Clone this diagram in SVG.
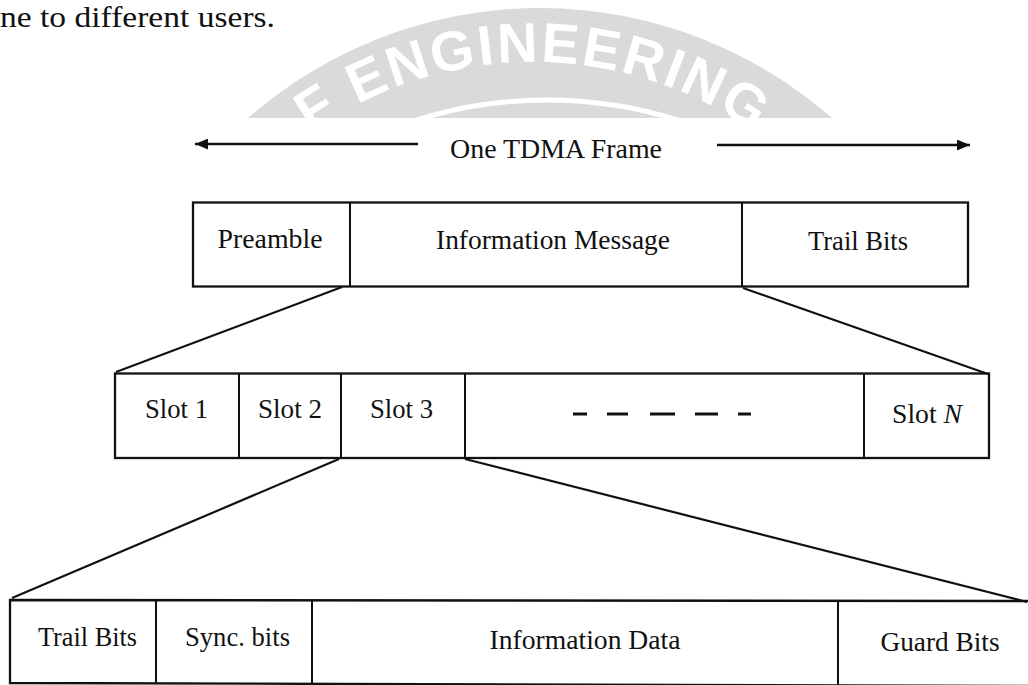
<svg xmlns="http://www.w3.org/2000/svg" width="1028" height="685" viewBox="0 0 1028 685">
<style>
.box{fill:none;stroke:#111;stroke-width:2.3}
.div{stroke:#111;stroke-width:2}
.conn{stroke:#111;stroke-width:2.2;fill:none}
.arw{stroke:#111;stroke-width:2.6;fill:none}
.lbl{font-family:"Liberation Serif","Times New Roman",serif;font-size:28px;fill:#111;text-anchor:middle}
.dash{stroke:#111;stroke-width:3}
.wm{font-family:"Liberation Sans",Arial,sans-serif;font-weight:bold;font-size:56px;fill:#fff;letter-spacing:2.5px}
</style>
<defs>
<marker id="ah" viewBox="0 0 12 10" refX="12" refY="5" markerWidth="13" markerHeight="11" markerUnits="userSpaceOnUse" orient="auto">
<path d="M0,0 L12,5 L0,10 z" fill="#111"/>
</marker>
<clipPath id="wmclip"><rect x="0" y="0" width="1028" height="118"/></clipPath>
<path id="wmarc" d="M 148,447 A 385 385 0 0 1 918,447" fill="none"/>
</defs>
<rect width="1028" height="685" fill="#fff"/>

<g id="watermark" clip-path="url(#wmclip)">
<circle cx="540" cy="450" r="442" fill="#dadada"/>
<circle cx="547" cy="536" r="436" fill="none" stroke="#fff" stroke-width="5"/>
<text class="wm"><textPath href="#wmarc" startOffset="50%" text-anchor="middle">F ENGINEERING</textPath></text>
</g>

<text id="caption" x="0" y="27" font-family="Liberation Serif, Times New Roman, serif" font-size="30" fill="#111" textLength="275" lengthAdjust="spacingAndGlyphs">ne to different users.</text>

<g id="frame-span">
<line class="arw" x1="418" y1="144" x2="195" y2="144" marker-end="url(#ah)"/>
<line class="arw" x1="717" y1="145" x2="970" y2="145" marker-end="url(#ah)"/>
<text class="lbl" x="556" y="158" textLength="212" lengthAdjust="spacingAndGlyphs">One TDMA Frame</text>
</g>

<g id="frame">
<rect class="box" x="193" y="202.5" width="775" height="84"/>
<line class="div" x1="350" y1="202.5" x2="350" y2="286.5"/>
<line class="div" x1="742" y1="202.5" x2="742" y2="286.5"/>
<text class="lbl" x="270" y="248" textLength="105" lengthAdjust="spacingAndGlyphs">Preamble</text>
<text class="lbl" x="553" y="249" textLength="234" lengthAdjust="spacingAndGlyphs">Information Message</text>
<text class="lbl" x="858" y="250" textLength="100" lengthAdjust="spacingAndGlyphs">Trail Bits</text>
</g>

<g id="slots">
<rect class="box" x="115" y="373.5" width="874" height="84.5"/>
<line class="div" x1="239" y1="373.5" x2="239" y2="458"/>
<line class="div" x1="341" y1="373.5" x2="341" y2="458"/>
<line class="div" x1="465" y1="373.5" x2="465" y2="458"/>
<line class="div" x1="864" y1="373.5" x2="864" y2="458"/>
<text class="lbl" x="176.5" y="418" textLength="63" lengthAdjust="spacingAndGlyphs">Slot 1</text>
<text class="lbl" x="290" y="418" textLength="64" lengthAdjust="spacingAndGlyphs">Slot 2</text>
<text class="lbl" x="401.5" y="418" textLength="63" lengthAdjust="spacingAndGlyphs">Slot 3</text>
<text class="lbl" x="927" y="423" textLength="70" lengthAdjust="spacingAndGlyphs">Slot <tspan font-style="italic">N</tspan></text>
<line class="dash" x1="573" y1="414" x2="587" y2="414"/>
<line class="dash" x1="607" y1="414" x2="628" y2="414"/>
<line class="dash" x1="650" y1="414" x2="675" y2="414"/>
<line class="dash" x1="695" y1="414" x2="718" y2="414"/>
<line class="dash" x1="738" y1="414" x2="751" y2="414"/>
</g>

<g id="slot-detail">
<polyline class="box" points="1028,601 10,600 10,683 1028,686"/>
<line class="div" x1="156" y1="600" x2="156" y2="684"/>
<line class="div" x1="312" y1="600" x2="312" y2="684"/>
<line class="div" x1="838" y1="600.5" x2="838" y2="685"/>
<text class="lbl" x="87.5" y="646" textLength="99" lengthAdjust="spacingAndGlyphs">Trail Bits</text>
<text class="lbl" x="237.5" y="646" textLength="105" lengthAdjust="spacingAndGlyphs">Sync. bits</text>
<text class="lbl" x="585" y="649" textLength="191" lengthAdjust="spacingAndGlyphs">Information Data</text>
<text class="lbl" x="940" y="651" textLength="119" lengthAdjust="spacingAndGlyphs">Guard Bits</text>
</g>

<g id="connectors">
<line class="conn" x1="342" y1="287" x2="116" y2="372"/>
<line class="conn" x1="743" y1="288" x2="988" y2="374"/>
<line class="conn" x1="339" y1="459" x2="12" y2="598"/>
<line class="conn" x1="465" y1="459" x2="1027" y2="602"/>
</g>
</svg>
